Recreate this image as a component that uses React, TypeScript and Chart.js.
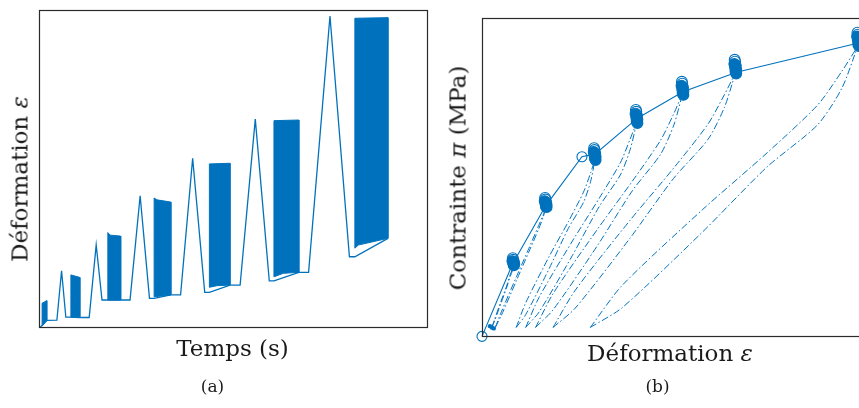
import React, { useEffect, useRef } from "react";
import { Chart, registerables } from "chart.js";

Chart.register(...registerables);

const BLUE = "#0072BD";
const AXIS = "#2b2b2b";
const FONT = "'DejaVu Serif', 'Liberation Serif', serif";

// ---------- Panel (a): strain vs time (arbitrary units, 0..100) ----------
const timeLine = [0, 0.8, 2.0, 4.6, 5.8, 6.9, 8.2, 10.5, 12.9, 14.7, 16.2, 17.7, 21.0, 23.4, 26.0, 28.4, 29.6, 33.9, 36.4, 39.5, 42.6, 43.8, 49.1, 51.7, 55.6, 59.2, 60.4, 66.8, 69.3, 74.8, 79.8, 81.2, 89.7];
const strainLine = [0, 0.8, 2.4, 2.5, 18.0, 3.4, 3.4, 3.3, 3.3, 26.1, 8.8, 8.8, 8.8, 8.8, 41.6, 9.3, 9.3, 10.4, 10.4, 53.4, 11.2, 11.2, 13.5, 13.5, 65.7, 14.8, 14.8, 17.5, 17.5, 98.1, 22.4, 22.4, 28.2];

// cyclic blocks: upper and lower envelopes [time, strain]
const blockTops = [
  [[0.8, 7.8], [2.0, 8.6]],
  [[8.2, 16.7], [10.5, 15.9]],
  [[17.7, 30.0], [18.3, 29.2], [21.0, 28.9]],
  [[29.6, 40.9], [30.3, 40.3], [33.9, 39.6]],
  [[43.8, 51.6], [49.1, 51.8]],
  [[60.4, 65.2], [66.8, 65.4]],
  [[81.2, 97.4], [89.7, 97.6]],
];
const blockLows = [
  [[0.8, 0.7], [2.0, 2.3]],
  [[8.2, 3.4], [10.5, 3.5]],
  [[17.7, 8.8], [21.0, 8.8]],
  [[29.6, 9.8], [33.9, 10.4]],
  [[43.8, 12.8], [45.7, 13.3], [49.1, 13.5]],
  [[60.4, 16.1], [62.8, 17.2], [66.8, 17.5]],
  [[81.2, 25.1], [82.1, 26.1], [89.7, 28.2]],
];

// ---------- Panel (b): stress vs strain (arbitrary units, 0..100) ----------
const envStrain = [0, 8.0, 16.8, 26.3, 29.8, 40.9, 52.9, 67.0, 98.8];
const envStress = [0.2, 22.8, 41.2, 56.5, 57.4, 68.6, 76.9, 83.0, 92.1];
const envMarker = [5, 0, 0, 5, 0, 0, 0, 0, 0];

const clusters = [
  [[8.1, 24.7], [8.2, 24.2], [8.0, 23.8], [8.4, 23.5], [8.2, 23.2], [8.5, 22.9], [8.3, 22.7], [8.4, 22.5]],
  [[16.6, 43.6], [16.7, 43.1], [16.5, 42.6], [16.9, 42.2], [16.7, 41.8], [17.0, 41.4], [16.8, 41.0], [17.0, 40.7]],
  [[29.5, 59.2], [29.6, 58.6], [29.4, 58.0], [29.8, 57.5], [29.6, 57.0], [29.9, 56.5], [29.7, 56.0], [29.9, 55.5]],
  [[40.5, 71.2], [40.6, 70.6], [40.4, 70.0], [40.8, 69.4], [40.6, 68.8], [40.9, 68.2], [40.7, 67.6], [40.9, 67.1]],
  [[52.6, 80.0], [52.7, 79.4], [52.5, 78.8], [52.9, 78.2], [52.7, 77.6], [53.0, 77.0], [52.8, 76.4], [53.0, 75.9]],
  [[66.5, 86.9], [66.6, 86.3], [66.4, 85.6], [66.8, 85.0], [66.6, 84.4], [66.9, 83.8], [66.7, 83.2], [66.9, 82.6]],
  [[98.8, 95.4], [98.9, 94.8], [98.7, 94.2], [99.1, 93.6], [98.9, 93.0], [99.2, 92.4], [99.0, 91.8], [99.2, 91.2]],
];

const residualBlob = [[2.1, 3.4], [2.6, 3.0], [3.1, 2.7]];

// unloading / reloading branches (dash-dot), bottom -> cluster
const loopUpper = [
  [[2.6, 3.0], [3.3, 5.5], [5.0, 11.2], [6.4, 15.7], [7.4, 19.5], [8.0, 21.2], [8.3, 22.6]],
  [[3.5, 3.0], [5.1, 7.9], [9.1, 19.0], [12.3, 27.7], [14.9, 34.9], [16.1, 38.3], [16.9, 41.0]],
  [[9.0, 3.0], [11.5, 10.7], [17.7, 25.3], [22.7, 36.1], [26.7, 45.4], [28.6, 51.5], [29.8, 56.0]],
  [[11.5, 3.0], [15.0, 12.4], [23.8, 30.1], [30.8, 43.4], [36.4, 54.6], [39.0, 62.1], [40.8, 67.6]],
  [[14.1, 3.0], [18.7, 13.6], [30.4, 33.8], [39.6, 48.9], [47.0, 61.7], [50.5, 70.1], [52.8, 76.4]],
  [[18.7, 3.0], [24.5, 14.6], [38.9, 36.5], [50.4, 52.9], [59.5, 66.8], [63.8, 76.0], [66.7, 82.8]],
  [[28.5, 3.0], [36.9, 16.2], [58.1, 40.0], [75.0, 57.7], [88.3, 72.7], [94.7, 83.3], [98.9, 91.2]],
];
const loopLower = [
  [[2.6, 3.0], [3.3, 5.0], [5.0, 10.6], [6.4, 15.2], [7.4, 18.9], [8.0, 20.8], [8.3, 22.6]],
  [[3.5, 3.0], [5.1, 6.8], [9.1, 17.8], [12.3, 26.6], [14.9, 33.8], [16.1, 37.6], [16.9, 41.0]],
  [[9.0, 3.0], [11.5, 7.0], [17.7, 21.5], [22.7, 34.0], [26.7, 42.2], [28.6, 48.8], [29.8, 56.0]],
  [[11.5, 3.0], [15.0, 7.8], [23.8, 25.6], [30.8, 40.8], [36.4, 50.8], [39.0, 58.8], [40.8, 67.6]],
  [[14.1, 3.0], [18.7, 8.5], [30.4, 28.7], [39.6, 45.9], [47.0, 57.3], [50.5, 66.5], [52.8, 76.4]],
  [[18.7, 3.0], [24.5, 9.0], [38.9, 30.9], [50.4, 49.7], [59.5, 62.0], [63.8, 72.0], [66.7, 82.8]],
  [[28.5, 3.0], [36.9, 9.2], [58.1, 33.0], [75.0, 53.3], [88.3, 66.5], [94.7, 78.0], [98.9, 91.2]],
];

const pts = (a: number[][]) => a.map(([x, y]) => ({ x, y }));

const boxPlugin = {
  id: "boxFrame",
  afterDatasetsDraw(chart: any) {
    const { ctx, chartArea: a } = chart;
    ctx.save();
    ctx.strokeStyle = AXIS;
    ctx.lineWidth = 1.2;
    ctx.strokeRect(a.left + 0.5, a.top + 0.5, a.right - a.left - 1, a.bottom - a.top - 1);
    ctx.restore();
  },
};

const baseOptions = (padding: any) => ({
  animation: false as const,
  responsive: false,
  devicePixelRatio: 1,
  layout: { padding },
  plugins: { legend: { display: false }, tooltip: { enabled: false }, title: { display: false } },
  scales: {
    x: { type: "linear" as const, min: 0, max: 100, display: false },
    y: { type: "linear" as const, min: 0, max: 100, display: false },
  },
});

function leftConfig(): any {
  const datasets: any[] = [
    {
      data: timeLine.map((x, i) => ({ x, y: strainLine[i] })),
      showLine: true,
      borderColor: BLUE,
      borderWidth: 1.3,
      pointRadius: 0,
      tension: 0,
      fill: false,
    },
  ];
  blockTops.forEach((top, i) => {
    const low = [...blockLows[i]].reverse();
    const poly = [...top, ...low, top[0]];
    datasets.push({
      data: pts(poly),
      showLine: true,
      borderColor: BLUE,
      backgroundColor: BLUE,
      borderWidth: 1,
      pointRadius: 0,
      tension: 0,
      fill: "shape",
    });
  });
  return {
    type: "scatter",
    data: { datasets },
    options: baseOptions({ left: 39, top: 10, right: 12, bottom: 80 }),
    plugins: [boxPlugin],
  };
}

function rightConfig(): any {
  const datasets: any[] = [];
  loopUpper.forEach((u, i) => {
    [u, loopLower[i]].forEach((branch) => {
      datasets.push({
        data: pts(branch),
        showLine: true,
        borderColor: BLUE,
        borderWidth: 1,
        borderDash: [7, 2.5, 1.5, 2.5],
        pointRadius: 0,
        tension: 0.25,
        fill: false,
      });
    });
  });
  datasets.push({
    data: envStrain.map((x, i) => ({ x, y: envStress[i] })),
    showLine: true,
    borderColor: BLUE,
    borderWidth: 1.1,
    pointRadius: envMarker,
    pointBorderColor: BLUE,
    pointBorderWidth: 1.1,
    pointBackgroundColor: "rgba(0,0,0,0)",
    tension: 0,
    fill: false,
    clip: false,
  });
  clusters.forEach((c) => {
    datasets.push({
      data: pts(c),
      showLine: false,
      pointRadius: 5.4,
      pointBorderColor: BLUE,
      pointBorderWidth: 1.1,
      pointBackgroundColor: c.map((_, j) => (j < 2 ? "rgba(0,0,0,0)" : BLUE)),
      clip: false,
    });
  });
  datasets.push({
    data: pts(residualBlob),
    showLine: false,
    pointRadius: 2.2,
    pointBorderWidth: 0,
    pointBackgroundColor: BLUE,
    pointBorderColor: BLUE,
    clip: false,
  });
  return {
    type: "scatter",
    data: { datasets },
    options: baseOptions({ left: 42, top: 18, right: 18, bottom: 71 }),
    plugins: [boxPlugin],
  };
}

const labelBase: React.CSSProperties = {
  position: "absolute",
  fontFamily: FONT,
  fontSize: 23,
  lineHeight: "23px",
  color: "#1a1a1a",
  whiteSpace: "nowrap",
};

export default function App() {
  const leftRef = useRef<HTMLCanvasElement>(null);
  const rightRef = useRef<HTMLCanvasElement>(null);

  useEffect(() => {
    const c1 = new Chart(leftRef.current as HTMLCanvasElement, leftConfig());
    const c2 = new Chart(rightRef.current as HTMLCanvasElement, rightConfig());
    return () => {
      c1.destroy();
      c2.destroy();
    };
  }, []);

  return (
    <div
      style={{
        position: "fixed",
        left: 0,
        top: 0,
        width: 859,
        height: 408,
        overflow: "hidden",
        background: "#fff",
      }}
    >
      <canvas
        ref={leftRef}
        width={440}
        height={408}
        style={{ position: "absolute", left: 0, top: 0, width: 440, height: 408 }}
      />
      <canvas
        ref={rightRef}
        width={440}
        height={408}
        style={{ position: "absolute", left: 440, top: 0, width: 440, height: 408 }}
      />
      <div style={{ ...labelBase, left: 19.7, top: 179, transform: "translate(-50%,-50%) rotate(-90deg)" }}>
        Déformation <i>ε</i>
      </div>
      <div style={{ ...labelBase, left: 232.5, top: 337.3, transform: "translateX(-50%)" }}>Temps (s)</div>
      <div style={{ ...labelBase, fontSize: 17, lineHeight: "17px", left: 212.5, top: 378.4, transform: "translateX(-50%)" }}>
        (a)
      </div>
      <div style={{ ...labelBase, left: 458, top: 177.5, transform: "translate(-50%,-50%) rotate(-90deg)" }}>
        Contrainte <i>π</i> (MPa)
      </div>
      <div style={{ ...labelBase, left: 670, top: 341.5, transform: "translateX(-50%)" }}>
        Déformation <i>ε</i>
      </div>
      <div style={{ ...labelBase, fontSize: 17, lineHeight: "17px", left: 657.5, top: 378.4, transform: "translateX(-50%)" }}>
        (b)
      </div>
    </div>
  );
}
